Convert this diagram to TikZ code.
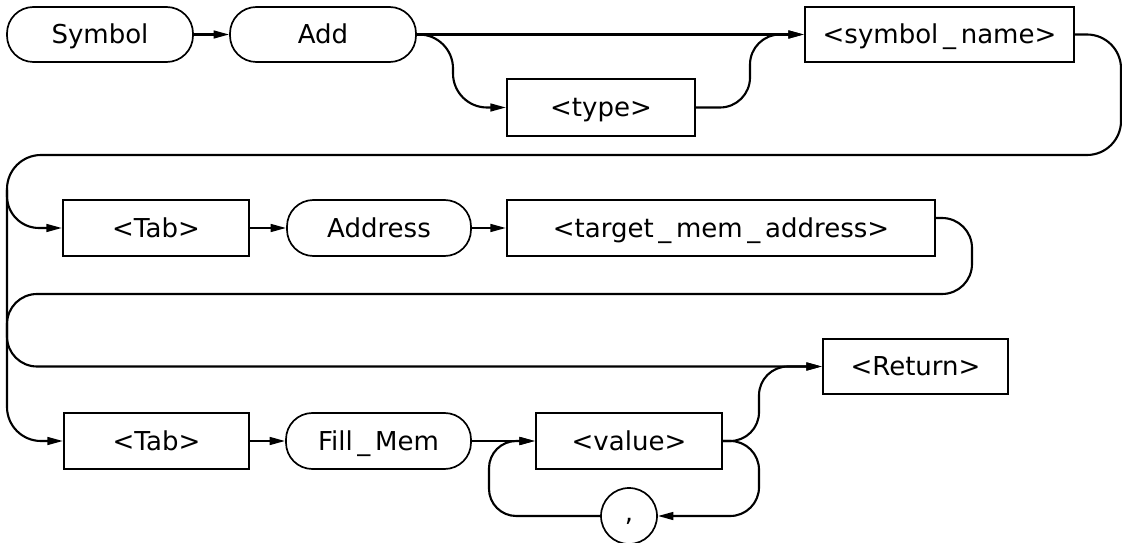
\documentclass[tikz,border=0pt]{standalone}
\usepackage{fontspec}
\setmainfont{DejaVu Sans}
\usetikzlibrary{arrows.meta,shapes.misc}
\newcommand{\usc}{\hspace{0.18em}\_\hspace{0.18em}}
\begin{document}
\begin{tikzpicture}[x=0.025cm,y=-0.025cm,
  every node/.style={font=\fontsize{18.5pt}{22pt}\selectfont, inner sep=0pt, line width=1.5pt, text height=13.4pt, text depth=0pt},
  w/.style={minimum width=#1*0.025cm},
  h/.style={minimum height=#1*0.025cm},
  term/.style={draw, rectangle, rounded corners=0.66cm, line width=1.2pt},
  nterm/.style={draw, rectangle},
  conn/.style={line width=1.5pt, -{Triangle[length=11pt,width=5.5pt]}},
]
\useasboundingbox (0,0) rectangle (1122,543);

% row 1
\node[term, w=186, h=55] (sym) at (100,34.5) {Symbol};
\node[term, w=186, h=55] (add) at (323,34.5) {Add};
\node[nterm, w=188, h=57] (type) at (601,107.5) {<type>};
\node[nterm, w=269, h=55] (sname) at (939.5,34.5) {<symbol\usc name>};

% row 2
\node[nterm, w=186, h=56] (tab1) at (156,228) {<Tab>};
\node[term, w=184, h=56] (addr) at (379,228) {Address};
\node[nterm, w=428, h=56] (target) at (721,228) {<target\usc mem\usc address>};

% row 3
\node[nterm, w=185, h=56] (tab2) at (156.5,441) {<Tab>};
\node[term, w=185, h=56] (fill) at (378.5,441) {Fill\usc Mem};
\node[nterm, w=186, h=56] (value) at (629,441) {<value>};
\node[nterm, w=185, h=55] (ret) at (915.5,366.5) {<Return>};
\node[draw, circle, line width=1.2pt, minimum size=56*0.025cm, text height=8pt] (comma) at (629,516) {,};

% connectors row 1
\draw[conn] (sym.east) -- (add.west);
\draw[conn] (add.east) -- (sname.west);
\draw[conn, rounded corners=0.85cm] (add.east) -- (453,34.5) -- (453,107.5) -- (type.west);
\draw[conn, rounded corners=0.75cm] (type.east) -- (750,107.5) -- (750,34.5) -- (sname.west);

% big return loop
\draw[conn, rounded corners=0.85cm] (sname.east) -- (1121,34.5) -- (1121,155) -- (7,155) -- (7,441) -- (tab2.west);
\draw[conn, rounded corners=0.8cm] (7,190) -- (7,228) -- (tab1.west);

% row 2
\draw[conn] (tab1.east) -- (addr.west);
\draw[conn] (addr.east) -- (target.west);
\draw[conn, rounded corners=0.75cm] ([yshift=0.25cm]target.east) -- (972,218) -- (972,294) -- (7,294) -- (7,366.5) -- (ret.west);

% row 3
\draw[conn] (tab2.east) -- (fill.west);
\draw[conn] (fill.east) -- (value.west);
\draw[conn, rounded corners=0.72cm] (value.east) -- (759,441) -- (759,366.5) -- (ret.west);
\draw[conn, rounded corners=0.72cm] (value.east) -- (759,441) -- (759,516) -- (comma.east);
\draw[conn, rounded corners=0.68cm] (comma.west) -- (489,516) -- (489,441) -- (value.west);
\end{tikzpicture}
\end{document}
